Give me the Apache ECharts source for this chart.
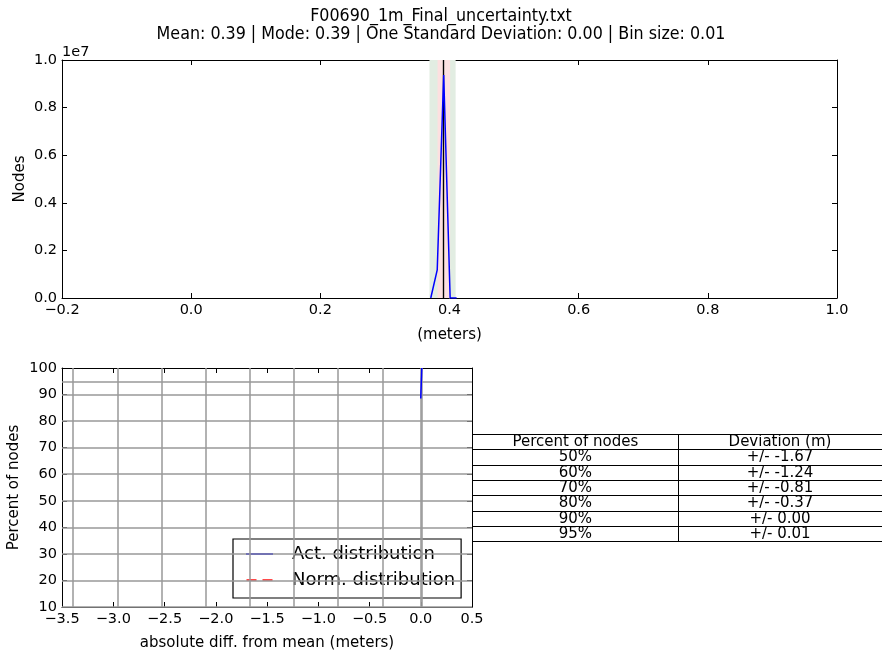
<!DOCTYPE html>
<html>
<head>
<meta charset="utf-8">
<style>
html,body{margin:0;padding:0;background:#fff;}
#chart{width:882px;height:655px;}
</style>
<script src="https://cdn.jsdelivr.net/npm/echarts@6/dist/echarts.min.js"></script>
</head>
<body>
<div id="chart"></div>
<script>
// ---- data ----
var titleLine1 = 'F00690_1m_Final_uncertainty.txt';
var titleLine2 = 'Mean: 0.39 | Mode: 0.39 | One Standard Deviation: 0.00 | Bin size: 0.01';
var histX = [0.371, 0.381, 0.391, 0.401, 0.411];
var histY = [0, 1180000, 9370000, 0, 0];
var meanLine = 0.3895;
var modeLine = 0.393;
var twoSigmaBand = [0.369, 0.4095];
var oneSigmaBand = [0.3815, 0.401];
var cumX = [0.0, 0.01];
var cumY = [88.5, 100];
var gridPercents = [10, 20, 30, 40, 50, 60, 70, 80, 90, 95];
var gridDeviations = [-3.40, -2.96, -2.53, -2.10, -1.67, -1.24, -0.81, -0.37, 0.00, 0.01];
var tableHeader = ['Percent of nodes', 'Deviation (m)'];
var tablePercents = ['50%', '60%', '70%', '80%', '90%', '95%'];
var tableDeviations = ['+/- -1.67', '+/- -1.24', '+/- -0.81', '+/- -0.37', '+/- 0.00', '+/- 0.01'];

var FONT = 'DejaVu Sans';
var TXT = '#000';
function fmt1(v){ var s = Math.abs(v).toFixed(1); return v < -1e-9 ? '\u2212' + s : s; }

var axisLine = {show:true, onZero:false, lineStyle:{color:'#000', width:1}};
var tickIn = {show:true, inside:true, length:5, lineStyle:{color:'#000', width:1}};

function xAx(grid, min, max, interval, pos, showLabel, name, nameGap){
  return {type:'value', gridIndex:grid, min:min, max:max, interval:interval, position:pos,
    axisLine:axisLine, axisTick:tickIn, splitLine:{show:false},
    axisLabel:{show:showLabel, formatter:fmt1, color:TXT, fontFamily:FONT, fontSize:14.5, margin:5},
    name:name||'', nameLocation:'middle', nameGap:nameGap||0,
    nameTextStyle:{color:TXT, fontFamily:FONT, fontSize:15}};
}
function yAx(grid, min, max, interval, pos, showLabel, formatter, name, nameGap){
  return {type:'value', gridIndex:grid, min:min, max:max, interval:interval, position:pos,
    axisLine:axisLine, axisTick:tickIn, splitLine:{show:false},
    axisLabel:{show:showLabel, formatter:formatter, color:TXT, fontFamily:FONT, fontSize:14.5, margin:5},
    name:name||'', nameLocation:'middle', nameGap:nameGap||0, nameRotate:90, nameMoveOverlap:false,
    nameTextStyle:{color:TXT, fontFamily:FONT, fontSize:15}};
}

// table graphic
var tblLeft = 472.7, tblMid = 678, tblRight = 886, tblTop = 434, rowH = 15.3;
var tableGraphics = [];
var nRows = tablePercents.length + 1;
for (var i = 0; i <= nRows; i++) {
  var y = Math.round(tblTop + i*rowH) + 0.5;
  tableGraphics.push({type:'line', shape:{x1:tblLeft, y1:y, x2:tblRight, y2:y}, style:{stroke:'#000', lineWidth:1}});
}
tableGraphics.push({type:'line', shape:{x1:tblMid+0.5, y1:Math.round(tblTop)+0.5, x2:tblMid+0.5, y2:Math.round(tblTop+nRows*rowH)+0.5}, style:{stroke:'#000', lineWidth:1}});
var col1c = (tblLeft + tblMid)/2, col2c = (tblMid + 882)/2;
var rowsText = [[tableHeader[0], tableHeader[1]]];
for (var j = 0; j < tablePercents.length; j++) rowsText.push([tablePercents[j], tableDeviations[j]]);
rowsText.forEach(function(r, k){
  var cy = tblTop + k*rowH + rowH/2 + 0.5;
  tableGraphics.push({type:'text', x:col1c, y:cy, style:{text:r[0], fill:'#000', font:'15px "DejaVu Sans"', align:'center', verticalAlign:'middle'}});
  tableGraphics.push({type:'text', x:col2c, y:cy, style:{text:r[1], fill:'#000', font:'15px "DejaVu Sans"', align:'center', verticalAlign:'middle'}});
});
tableGraphics.push({type:'text', x:62, y:52, style:{text:'1e7', fill:'#000', font:'14.5px "DejaVu Sans"', align:'left', verticalAlign:'middle'}});

var vLines = gridDeviations.map(function(d){ return {xAxis:d}; });
var hLines = gridPercents.map(function(p){ return {yAxis:p}; });

var chart = echarts.init(document.getElementById('chart'), null, {renderer:'canvas'});
chart.setOption({
  animation:false,
  backgroundColor:'#fff',
  title:{text: titleLine1 + '\n' + titleLine2, left:'center', top:2,
    textStyle:{fontFamily:'DejaVu Sans Condensed, DejaVu Sans', fontWeight:'normal', fontSize:17.7, color:TXT, lineHeight:18}},
  legend:{orient:'vertical', left:233, top:539,
    data:[
      {name:'Act. distribution', icon:'path://M0,0H27V2H0Z'},
      {name:'Norm. distribution', icon:'path://M0,0H10V2H0Z M16,0H26V2H16Z'}
    ],
    backgroundColor:'#fff', borderColor:'#000', borderWidth:1.2, borderRadius:0,
    padding:[5,6,8,13], itemWidth:27, itemHeight:2, itemGap:6,
    textStyle:{fontFamily:FONT, fontSize:18, color:TXT, lineHeight:20, padding:[0,0,0,14]}},
  grid:[
    {left:62, top:60, width:775, height:238},
    {left:62, top:368, width:410, height:239}
  ],
  xAxis:[
    xAx(0, -0.2, 1.0, 0.2, 'bottom', true, '(meters)', 30),
    xAx(0, -0.2, 1.0, 0.2, 'top', false),
    xAx(1, -3.5, 0.5, 0.5, 'bottom', true, 'absolute diff. from mean (meters)', 29),
    xAx(1, -3.5, 0.5, 0.5, 'top', false)
  ],
  yAxis:[
    yAx(0, 0, 10000000, 2000000, 'left', true, function(v){ return (v/1e7).toFixed(1); }, 'Nodes', 34.5),
    yAx(0, 0, 10000000, 2000000, 'right', false),
    yAx(1, 10, 100, 10, 'left', true, function(v){ return String(v); }, 'Percent of nodes', 40),
    yAx(1, 10, 100, 10, 'right', false)
  ],
  graphic: tableGraphics,
  series:[
    {type:'line', name:'hist', xAxisIndex:0, yAxisIndex:0, symbol:'none',
      data: histX.map(function(x,i){ return [x, histY[i]]; }),
      lineStyle:{color:'#0000ff', width:1.5}, z:5,
      markArea:{silent:true, data:[
        [{xAxis:twoSigmaBand[0], itemStyle:{color:'#e2ede2'}}, {xAxis:twoSigmaBand[1]}],
        [{xAxis:oneSigmaBand[0], itemStyle:{color:'#fde0e0'}}, {xAxis:oneSigmaBand[1]}]
      ]}
    },
    {type:'line', name:'meanmode', xAxisIndex:0, yAxisIndex:0, symbol:'none', data:[], z:6,
      markLine:{silent:true, symbol:'none', label:{show:false}, animation:false,
        lineStyle:{color:'#000', width:1.2, type:'solid'},
        data:[{xAxis:meanLine},{xAxis:modeLine}]}
    },
    {type:'line', name:'gridlines', xAxisIndex:2, yAxisIndex:2, data:[], symbol:'none', z:1,
      markLine:{silent:true, symbol:'none', label:{show:false}, animation:false,
        lineStyle:{color:'#999', width:1.5, type:'solid'},
        data: vLines.concat(hLines)}
    },
    {type:'line', name:'Act. distribution', xAxisIndex:2, yAxisIndex:2, symbol:'none',
      data: cumX.map(function(x,i){ return [x, cumY[i]]; }),
      lineStyle:{color:'#0000ff', width:1.5}, itemStyle:{color:'#0000ff'}, z:5},
    {type:'line', name:'Norm. distribution', xAxisIndex:2, yAxisIndex:2, symbol:'none', data:[],
      lineStyle:{color:'#ff4040', width:1.5, type:[6,5]}, itemStyle:{color:'#ff4a4a'}, z:5}
  ]
});
</script>
</body>
</html>
